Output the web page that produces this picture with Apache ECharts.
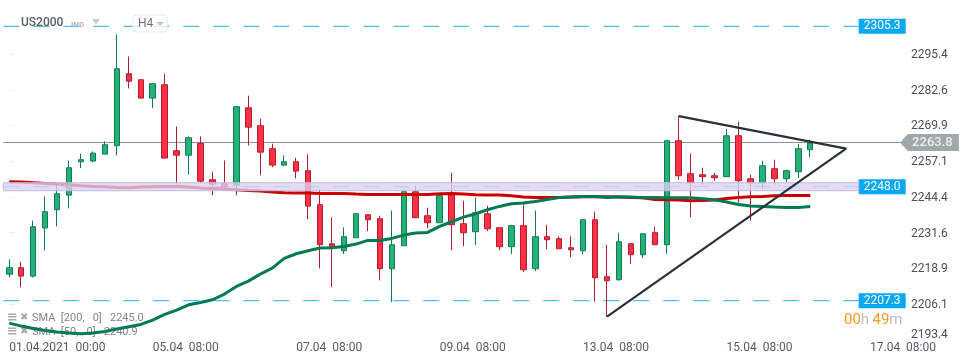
<!DOCTYPE html>
<html>
<head>
<meta charset="utf-8">
<style>html,body{margin:0;padding:0;background:#fff}#main{width:970px;height:364px}</style>
<script src="https://cdn.jsdelivr.net/npm/echarts@6/dist/echarts.min.js"></script>
</head>
<body>
<div id="main"></div>
<script>
// 4h candles
const open = [2216.79,2219.08,2216.08,2233.29,2239.79,2245.0,2256.93,2257.15,2259.65,2262.65,
  2288.36,2286.22,2279.65,2284.43,2260.86,2259.29,2263.47,2250.5,2249.18,2248.58,
  2276.22,2269.79,2261.58,2255.72,2256.93,2253.72,2241.58,2227.65,2225.15,2229.79,
  2238.0,2236.58,2218.72,2226.93,2246.22,2237.65,2235.15,2245.15,2234.79,2231.93,
  2238.36,2233.36,2226.58,2234.08,2218.72,2230.15,2229.43,2226.22,2225.15,2236.22,
  2215.86,2214.79,2227.65,2223.72,2231.58,2227.29,2264.43,2252.65,2252.29,2251.93,
  2251.58,2266.22,2250.86,2249.43,2254.43,2250.86,2253.36,2261.22];
const close = [2219.08,2216.08,2233.72,2239.08,2245.5,2254.79,2257.65,2260.0,2263.0,2290.15,
  2285.72,2279.65,2284.79,2258.22,2259.29,2265.5,2250.0,2248.93,2248.11,2276.58,
  2269.29,2260.36,2255.72,2256.93,2253.58,2241.08,2227.29,2226.68,2230.15,2238.36,
  2236.22,2218.72,2227.29,2246.22,2236.93,2235.15,2244.79,2234.43,2231.58,2238.72,
  2233.0,2226.58,2234.08,2218.36,2230.15,2229.08,2225.86,2225.5,2236.22,2215.5,
  2214.43,2228.36,2223.72,2231.22,2227.29,2264.43,2251.93,2249.43,2251.58,2251.22,
  2266.22,2250.15,2249.43,2255.5,2250.86,2253.72,2261.58,2263.6];
const low = [2215.61,2212.04,2215.61,2225.25,2233.83,2240.25,2254.65,2256.79,2259.65,2259.18,
  2283.11,2279.65,2276.08,2258.22,2248.83,2252.4,2249.54,2244.9,2247.4,2244.9,
  2262.75,2252.04,2255.0,2255.36,2250.97,2236.33,2218.83,2212.15,2223.93,2229.79,
  2232.15,2214.54,2206.79,2226.93,2236.93,2233.22,2235.15,2225.36,2226.79,2227.15,
  2232.15,2225.36,2223.93,2217.5,2217.86,2225.72,2225.86,2222.86,2223.93,2207.04,
  2201.58,2214.43,2220.36,2222.5,2227.29,2224.08,2250.5,2237.15,2248.72,2250.15,
  2251.58,2242.29,2235.86,2246.93,2248.72,2249.65,2251.08,2258.58];
const high = [2222.04,2221.22,2235.86,2244.54,2249.08,2257.4,2259.79,2260.61,2264.18,2302.4,
  2294.54,2286.22,2284.79,2288.36,2269.54,2265.97,2265.97,2253.36,2257.4,2276.58,
  2280.5,2272.29,2263.36,2259.18,2258.36,2259.54,2247.29,2237.04,2233.47,2238.36,
  2238.0,2237.65,2239.43,2246.68,2248.47,2240.5,2245.61,2253.0,2243.0,2244.08,
  2241.22,2233.36,2234.43,2241.68,2239.43,2234.43,2230.25,2230.25,2236.22,2239.08,
  2227.29,2231.58,2227.65,2231.22,2233.72,2264.79,2273.36,2259.79,2254.79,2253.0,
  2268.72,2271.22,2252.29,2257.29,2257.65,2254.08,2263.36,2264.79];

const sma200 = [2249.78,2249.66,2249.42,2249.18,2248.94,2248.71,2248.35,2248.11,2247.99,2247.75,
  2247.64,2247.87,2247.99,2248.11,2248.11,2247.87,2247.52,2247.4,2247.16,2246.92,
  2246.68,2246.44,2246.09,2245.85,2245.73,2245.73,2245.61,2245.62,2245.62,2245.38,
  2245.26,2245.26,2245.26,2245.26,2245.26,2245.26,2245.5,2245.62,2245.38,2245.14,
  2245.02,2245.02,2244.78,2244.31,2244.19,2244.19,2244.19,2244.31,2244.43,2244.43,
  2244.43,2244.31,2244.19,2244.07,2243.47,2243.35,2243.23,2243.0,2243.12,2243.23,
  2243.83,2244.19,2244.43,2244.54,2244.78,2244.9,2244.9,2244.9];
const sma50 = [2199.3,2198.23,2197.4,2196.68,2196.09,2195.73,2195.49,2195.73,2196.33,2197.16,
  2197.99,2198.83,2200.37,2202.4,2203.94,2205.85,2206.68,2207.64,2209.66,2212.4,
  2214.3,2216.8,2218.94,2222.4,2224.06,2225.14,2226.09,2226.21,2226.69,2227.52,
  2228.83,2228.83,2229.54,2230.73,2231.45,2231.69,2233.83,2235.5,2237.16,2238.35,
  2239.78,2240.97,2241.93,2242.16,2242.76,2243.47,2244.19,2244.31,2244.54,2244.54,
  2244.19,2244.43,2244.31,2244.07,2244.19,2244.07,2244.07,2244.07,2243.71,2243.35,
  2242.52,2241.69,2241.09,2240.97,2240.73,2240.62,2240.62,2240.97];

const tickLabels = ['01.04.2021  00:00','05.04  08:00','07.04  08:00','09.04  08:00','13.04  08:00','15.04  08:00','17.04  08:00'];
const priceTicks = [2295.4,2282.6,2269.9,2257.1,2244.4,2231.6,2218.9,2206.1,2193.4];
const levels = [2305.3,2248.0,2207.3];
const band = [2249.43,2246.58];
const lastPrice = 2263.8;
// triangle drawn on the candle index axis: start of support, apex, start of resistance
const triangle = [[50,2201.6],[70,2261.6],[56,2273.2]];

const slots = 75;
const labelEvery = 12;
const levelEnd = 71.05;

const categories = [];
for (let i = 0; i < slots; i += 1) {
  categories.push(i % labelEvery === 0 ? tickLabels[i / labelEvery] : '');
}
const candles = open.map((o, i) => [o, close[i], low[i], high[i]]);

const levelSeries = levels.map((v) => ({
  type: 'line',
  xAxisIndex: 1,
  silent: true,
  showSymbol: false,
  z: 1,
  data: [[-0.5, v], [levelEnd, v]],
  lineStyle: { color: '#29aef0', width: 1, type: [16, 14] },
  endLabel: {
    show: true,
    formatter: v.toFixed(1),
    distance: 0,
    color: '#fff',
    fontFamily: 'Roboto',
    fontSize: 12,
    backgroundColor: '#08a8f4',
    width: 42,
    height: 15,
    lineHeight: 15,
    align: 'left',
    padding: [0, 0, 0, 5],
  },
}));

const option = {
  animation: false,
  backgroundColor: '#fff',
  grid: { left: 3.3, right: 70.1, top: 0.43, bottom: 23.57 },
  xAxis: [{
    type: 'category',
    data: categories,
    offset: -3,
    axisLine: { show: false },
    axisTick: { alignWithLabel: true, interval: (i) => i % labelEvery === 0, length: 5, lineStyle: { color: '#eeeeee' } },
    axisLabel: {
      interval: (i) => i % labelEvery === 0,
      align: 'left',
      margin: 5,
      color: '#555c63',
      fontFamily: 'Roboto',
      fontSize: 12,
      hideOverlap: false,
    },
  }, {
    type: 'value',
    show: false,
    min: -0.5,
    max: slots - 0.5,
  }],
  yAxis: {
    type: 'value',
    position: 'right',
    min: 2193.11,
    max: 2314.54,
    splitLine: { show: false },
    axisLine: { show: false },
    axisTick: { show: true, length: 6, customValues: priceTicks, lineStyle: { color: '#eeeeee' } },
    axisLabel: {
      customValues: priceTicks,
      margin: 11,
      padding: [2, 0, 0, 0],
      color: '#4a5057',
      fontFamily: 'Roboto',
      fontSize: 12,
      formatter: (v) => (v < 2200 ? `{low|${v.toFixed(1)}}` : v.toFixed(1)),
      rich: { low: { padding: [0, 0, 11, 0], color: '#4a5057', fontFamily: 'Roboto', fontSize: 12 } },
    },
  },
  graphic: [
    { type: 'text', z: 10, left: 21, top: 17, style: { text: 'US2000', fill: '#5a6066', font: '500 12px Roboto' } },
    { type: 'text', z: 10, left: 71, top: 21, style: { text: 'IND', fill: '#b0b4b8', font: 'bold 8px Roboto' } },
    { type: 'polygon', z: 10, shape: { points: [[92, 19], [100, 19], [96, 24]] }, style: { fill: '#c4c7ca' } },
    { type: 'rect', z: 10, shape: { x: 133, y: 15, width: 34, height: 17, r: 3 }, style: { fill: 'rgba(255,255,255,0.8)', stroke: '#e6e8ea' } },
    { type: 'text', z: 11, left: 138, top: 18, style: { text: 'H4', fill: '#6c7277', font: '12px Roboto' } },
    { type: 'polygon', z: 11, shape: { points: [[156, 22], [164, 22], [160, 26]] }, style: { fill: '#c4c7ca' } },
    { type: 'text', z: 0, left: 7, top: 311, style: { text: '≡', fill: '#aaaaaa', font: 'bold 13px DejaVu Sans' } },
    { type: 'text', z: 0, left: 20, top: 312, style: { text: '✖', fill: '#aaaaaa', font: '10px DejaVu Sans' } },
    { type: 'text', z: 0, left: 32, top: 313, style: { text: 'SMA  [200,   0]   2245.0', fill: '#808488', font: '11px Roboto' } },
    { type: 'text', z: 0, left: 7, top: 325, style: { text: '≡', fill: '#aaaaaa', font: 'bold 13px DejaVu Sans' } },
    { type: 'text', z: 0, left: 20, top: 326, style: { text: '✖', fill: '#aaaaaa', font: '10px DejaVu Sans' } },
    { type: 'text', z: 0, left: 32, top: 327, style: { text: 'SMA  [50,   0]   2240.9', fill: '#808488', font: '11px Roboto' } },
    {
      type: 'text',
      z: 10,
      left: 844,
      top: 313,
      style: {
        text: '{o|00}{g|h} {o|49}{g|m}',
        rich: {
          o: { fill: '#f7981d', font: '15px Roboto' },
          g: { fill: '#bbbbbb', font: '15px Roboto' },
        },
      },
    },
  ],
  series: [
    ...levelSeries.map((s, i) => (i === 1 ? {
      ...s,
      markArea: {
        silent: true,
        z: 4,
        itemStyle: { color: 'rgba(220,210,240,0.78)', borderColor: '#c6b8e2', borderWidth: 1 },
        data: [[{ xAxis: -0.5, yAxis: band[0] }, { xAxis: levelEnd, yAxis: band[1] }]],
      },
    } : s)),
    {
      type: 'line',
      xAxisIndex: 1,
      silent: true,
      showSymbol: false,
      z: 1,
      data: [[-0.5, lastPrice], [slots - 0.5, lastPrice]],
      lineStyle: { color: '#86909a', width: 1 },
    },
    {
      type: 'candlestick',
      xAxisIndex: 0,
      silent: true,
      z: 2,
      barWidth: 6,
      data: candles,
      itemStyle: {
        color: '#26b276',
        color0: '#ff3045',
        borderColor: '#0f7a55',
        borderColor0: '#b01c2e',
        borderWidth: 1,
      },
    },
    {
      type: 'line',
      xAxisIndex: 0,
      silent: true,
      showSymbol: false,
      z: 3,
      data: sma200,
      lineStyle: { color: '#cc0000', width: 3 },
    },
    {
      type: 'line',
      xAxisIndex: 0,
      silent: true,
      showSymbol: false,
      z: 3,
      data: sma50,
      lineStyle: { color: '#007a55', width: 3 },
    },
    {
      type: 'line',
      xAxisIndex: 1,
      silent: true,
      showSymbol: false,
      z: 5,
      data: triangle,
      lineStyle: { color: '#2a3138', width: 2.2 },
    },
    {
      type: 'scatter',
      xAxisIndex: 1,
      silent: true,
      clip: false,
      z: 6,
      data: [[slots - 0.5, lastPrice]],
      symbol: 'path://M0 8.5 L8 0 L59 0 L59 17 L8 17 Z',
      symbolSize: [59, 17],
      symbolKeepAspect: false,
      symbolOffset: [29.5, 0],
      itemStyle: { color: '#8a9296' },
      label: {
        show: true,
        position: 'inside',
        offset: [3, 0],
        formatter: lastPrice.toFixed(1),
        color: '#fff',
        fontFamily: 'Roboto',
        fontSize: 13,
        fontWeight: 500,
      },
    },
  ],
};

const chart = echarts.init(document.getElementById('main'));
chart.setOption(option);
</script>
</body>
</html>
